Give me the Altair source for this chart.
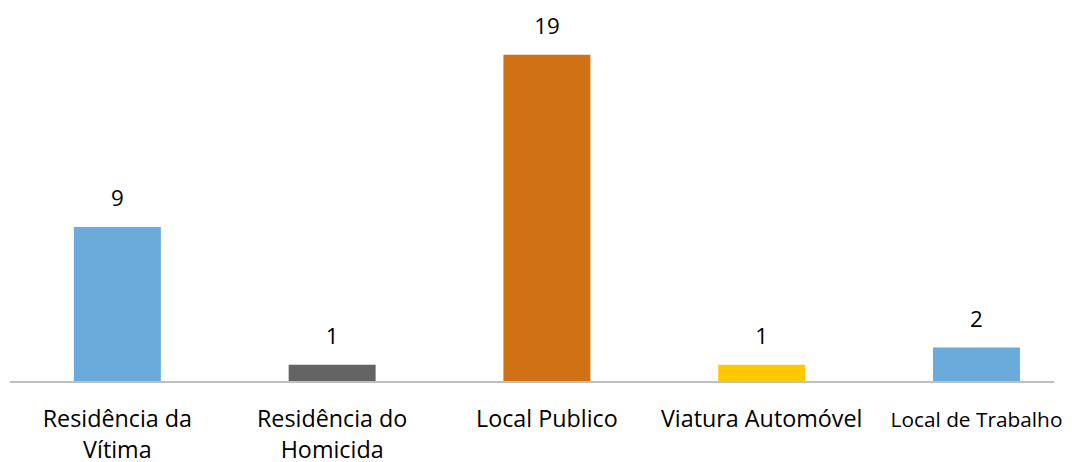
import altair as alt
import pandas as pd

categories = ["Residência da|Vítima", "Residência do|Homicida", "Local Publico", "Viatura Automóvel", "Local de Trabalho"]
values = [9, 1, 19, 1, 2]
colors = ["#6BABDB", "#646464", "#D07114", "#FFC800", "#6BABDB"]

df = pd.DataFrame({"cat": categories, "val": values, "color": colors})

FONT = "Open Sans"

x = alt.X("cat:N", sort=categories, title=None,
          scale=alt.Scale(range=[0, 1082], paddingInner=0.595, paddingOuter=0.2975),
          axis=alt.Axis(labelExpr="split(datum.label, '|')", labelAngle=0, domain=False,
                        ticks=False, labelFont=FONT,
                        labelFontSize=alt.condition("datum.value == 'Local de Trabalho'", alt.value(21), alt.value(23.5)),
                        labelColor="#000000",
                        labelPadding=45, labelLineHeight=31, labelBaseline="alphabetic",
                        labelLimit=0, labelOverlap=False))
y = alt.Y("val:Q", title=None, scale=alt.Scale(domain=[0, 20]), axis=None)

bars = alt.Chart(df).mark_bar().encode(x=x, y=y, color=alt.Color("color:N", scale=None))
text = alt.Chart(df).mark_text(baseline="alphabetic", dy=-21, font=FONT, fontSize=22.5, color="#000000").encode(
    x=alt.X("cat:N", sort=categories), y="val:Q", text="val:Q")
rule = alt.Chart(df).mark_rule(color="#BFBFBF", strokeWidth=1.5).encode(
    x=alt.value(0), x2=alt.value(1052), y=alt.value(347))

chart = alt.layer(bars, text, rule).properties(
    width=1052, height=347,
    autosize=alt.AutoSizeParams(type="none"),
    padding={"left": 2, "top": 28, "right": 10, "bottom": 79},
).configure_view(stroke=None)

chart.save("out.html", embed_options={"renderer": "svg", "actions": False})
